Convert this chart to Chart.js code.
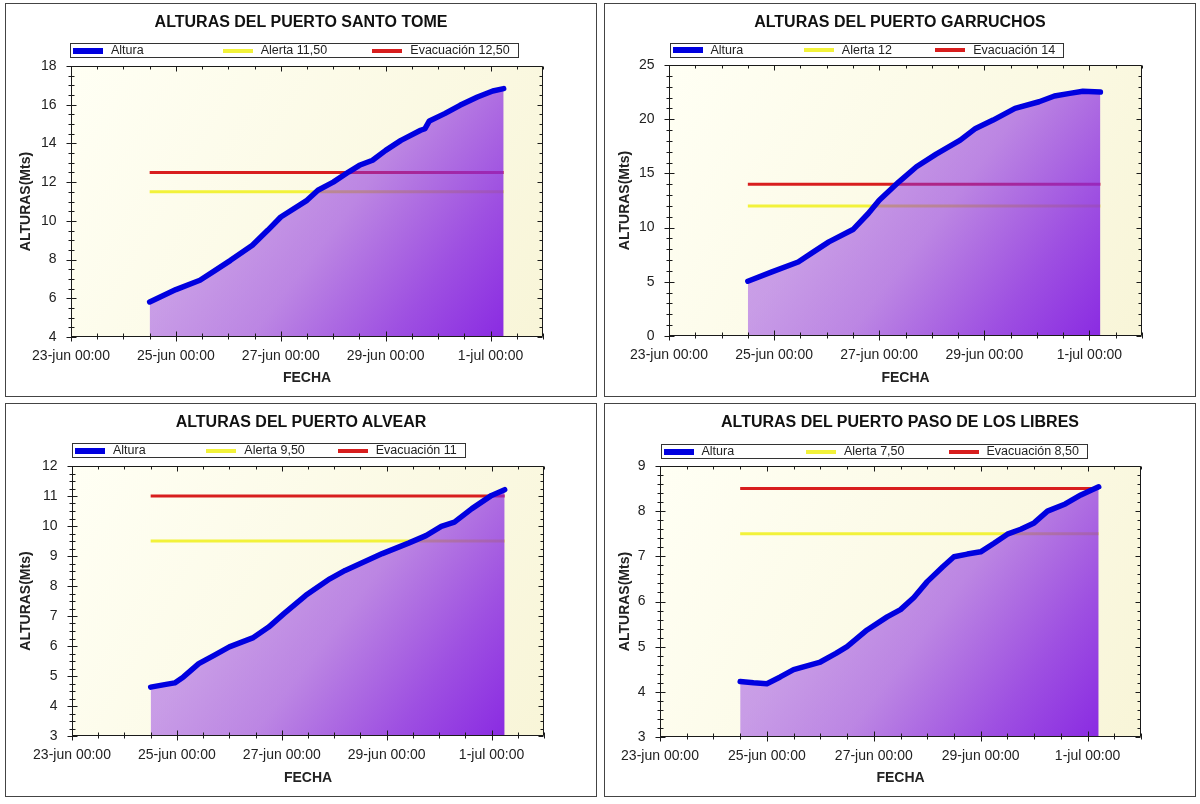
<!DOCTYPE html>
<html>
<head>
<meta charset="utf-8">
<script src="https://cdn.jsdelivr.net/npm/chart.js@4.4.1/dist/chart.umd.min.js"></script>
<style>
html,body{margin:0;padding:0;background:#fff;}
body{width:1200px;height:804px;position:relative;overflow:hidden;font-family:"Liberation Sans",Arial,sans-serif;}
.panel{position:absolute;width:592px;height:394px;}
.panel canvas{position:absolute;left:0;top:0;}
.borde{position:absolute;left:0;top:0;width:592px;height:394px;box-sizing:border-box;border:1.5px solid #444;pointer-events:none;}
.titulo{position:absolute;left:0;width:592px;top:9px;text-align:center;font-weight:bold;font-size:16px;line-height:20px;color:#111;}
.leyenda{position:absolute;height:15px;border:1px solid #333;box-sizing:border-box;background:#fff;font-size:12.5px;color:#222;}
.sw{position:absolute;width:30px;}
.tx{position:absolute;top:0;line-height:13px;white-space:nowrap;}
</style>
</head>
<body>
<script>
// ---------- DATOS ----------
const etiquetasX = ["23-jun 00:00", "25-jun 00:00", "27-jun 00:00", "29-jun 00:00", "1-jul 00:00"];
const inicioEjeX = "23-jun 00:00";
const finEjeX = "2-jul 00:00";
const tituloEjeX = "FECHA";
const tituloEjeY = "ALTURAS(Mts)";

// Santo Tome
const tituloSantoTome = "ALTURAS DEL PUERTO SANTO TOME";
const leyendaSantoTome = ["Altura", "Alerta 11,50", "Evacuación 12,50"];
const fechasSantoTome = ["24-jun 12:00","25-jun 00:00","25-jun 11:00","25-jun 18:00","26-jun 01:00","26-jun 11:00","26-jun 18:00","27-jun 00:00","27-jun 12:00","27-jun 17:00","28-jun 00:00","28-jun 07:00","28-jun 12:00","28-jun 18:00","29-jun 00:00","29-jun 07:00","29-jun 16:00","29-jun 18:00","29-jun 20:00","30-jun 03:00","30-jun 10:00","30-jun 18:00","1-jul 01:00","1-jul 06:00"];
const alturasSantoTome = [5.81,6.45,6.93,7.44,7.96,8.74,9.51,10.2,11.06,11.58,12.0,12.52,12.87,13.13,13.64,14.16,14.68,14.76,15.16,15.54,15.97,16.40,16.71,16.83];
const alertaSantoTome = 11.5;
const evacuacionSantoTome = 12.5;
const ejeYSantoTome = [4, 18, 2, 0.5];

// Garruchos
const tituloGarruchos = "ALTURAS DEL PUERTO GARRUCHOS";
const leyendaGarruchos = ["Altura", "Alerta 12", "Evacuación 14"];
const fechasGarruchos = ["24-jun 12:00","24-jun 23:00","25-jun 11:00","25-jun 18:00","26-jun 01:00","26-jun 12:00","26-jun 19:00","27-jun 00:00","27-jun 09:00","27-jun 17:00","28-jun 02:00","28-jun 13:00","28-jun 20:00","29-jun 04:00","29-jun 14:00","30-jun 01:00","30-jun 08:00","30-jun 15:00","30-jun 21:00","1-jul 05:00"];
const alturasGarruchos = [5.05,5.91,6.83,7.76,8.68,9.82,11.3,12.53,14.22,15.61,16.78,18.07,19.15,19.92,21.0,21.61,22.14,22.38,22.57,22.5];
const alertaGarruchos = 12;
const evacuacionGarruchos = 14;
const ejeYGarruchos = [0, 25, 5, 1];

// Alvear
const tituloAlvear = "ALTURAS DEL PUERTO ALVEAR";
const leyendaAlvear = ["Altura", "Alerta 9,50", "Evacuación 11"];
const fechasAlvear = ["24-jun 12:00","24-jun 19:00","24-jun 23:00","25-jun 03:00","25-jun 10:00","25-jun 17:00","26-jun 00:00","26-jun 11:00","26-jun 18:00","27-jun 01:00","27-jun 11:00","27-jun 22:00","28-jun 05:00","28-jun 13:00","28-jun 22:00","29-jun 10:00","29-jun 18:00","30-jun 01:00","30-jun 07:00","30-jun 15:00","1-jul 00:00","1-jul 06:00"];
const alturasAlvear = [4.63,4.72,4.77,4.97,5.41,5.69,5.97,6.28,6.63,7.08,7.69,8.24,8.52,8.78,9.08,9.43,9.68,9.99,10.13,10.58,11.02,11.21];
const alertaAlvear = 9.5;
const evacuacionAlvear = 11;
const ejeYAlvear = [3, 12, 1, 0.25];

// Paso de los Libres
const tituloPasoLibres = "ALTURAS DEL PUERTO PASO DE LOS LIBRES";
const leyendaPasoLibres = ["Altura", "Alerta 7,50", "Evacuación 8,50"];
const fechasPasoLibres = ["24-jun 12:00","24-jun 18:00","25-jun 00:00","25-jun 06:00","25-jun 12:00","26-jun 00:00","26-jun 07:00","26-jun 12:00","26-jun 21:00","27-jun 06:00","27-jun 12:00","27-jun 18:00","28-jun 00:00","28-jun 07:00","28-jun 12:00","28-jun 18:00","29-jun 00:00","29-jun 06:00","29-jun 12:00","29-jun 18:00","30-jun 00:00","30-jun 06:00","30-jun 14:00","30-jun 21:00","1-jul 05:00"];
const alturasPasoLibres = [4.23,4.20,4.18,4.33,4.49,4.66,4.85,5.0,5.37,5.66,5.82,6.09,6.44,6.77,6.99,7.05,7.10,7.29,7.49,7.60,7.74,8.0,8.16,8.36,8.54];
const alertaPasoLibres = 7.5;
const evacuacionPasoLibres = 8.5;
const ejeYPasoLibres = [3, 9, 1, 0.2];

// ---------- UTILIDADES ----------
const MESES = {jun: 0, jul: 30};
function aHoras(s) {
  const m = s.match(/(\d+)-(\w+) (\d+):(\d+)/);
  return (parseInt(m[1], 10) + MESES[m[2]] - 23) * 24 + parseInt(m[3], 10) + parseInt(m[4], 10) / 60;
}
const FUENTE = '"Liberation Sans", Arial, sans-serif';
const W = 592, H = 394;

const marco = {
  id: 'marco',
  beforeDraw(chart) {
    const {ctx, chartArea: a} = chart;
    const g = ctx.createLinearGradient(a.left, a.top, a.right, a.bottom);
    g.addColorStop(0, '#fffff4');
    g.addColorStop(1, '#f8f5d8');
    ctx.save();
    ctx.fillStyle = g;
    ctx.fillRect(a.left, a.top, a.right - a.left, a.bottom - a.top);
    ctx.restore();
  },
  afterDraw(chart) {
    const {ctx, chartArea: a} = chart;
    const sx = chart.scales.x, sy = chart.scales.y;
    const L = Math.round(a.left) + 0.5, R = Math.round(a.right) - 0.5;
    const T = Math.round(a.top) + 0.5, B = Math.round(a.bottom) - 0.5;
    ctx.save();
    ctx.strokeStyle = '#1a1a1a';
    ctx.lineWidth = 1;
    ctx.beginPath();
    ctx.rect(L, T, R - L, B - T);
    ctx.stroke();
    ctx.beginPath();
    sx.ticks.forEach(t => {
      const p = Math.round(sx.getPixelForValue(t.value)) + 0.5;
      const mayor = t.label !== '';
      const e = mayor ? 5 : 3;
      ctx.moveTo(p, B - e); ctx.lineTo(p, B + e);
      ctx.moveTo(p, T); ctx.lineTo(p, T + (mayor ? 5 : 3));
    });
    sy.ticks.forEach(t => {
      const p = Math.round(sy.getPixelForValue(t.value)) + 0.5;
      const mayor = t.label !== '';
      const e = mayor ? 5 : 3;
      ctx.moveTo(L - e, p); ctx.lineTo(L + e, p);
      ctx.moveTo(R, p); ctx.lineTo(R - (mayor ? 5 : 3), p);
    });
    ctx.stroke();
    ctx.restore();
  }
};

function crearGrafico(cfg) {
  const panel = document.createElement('div');
  panel.className = 'panel';
  panel.style.left = cfg.px + 'px';
  panel.style.top = cfg.py + 'px';
  const cv = document.createElement('canvas');
  cv.width = W; cv.height = H;
  panel.appendChild(cv);

  const tit = document.createElement('div');
  tit.className = 'titulo';
  tit.textContent = cfg.titulo;
  panel.appendChild(tit);

  const ley = document.createElement('div');
  ley.className = 'leyenda';
  ley.style.left = cfg.ley[0] + 'px';
  ley.style.top = cfg.ley[1] + 'px';
  ley.style.width = cfg.ley[2] + 'px';
  const col = cfg.ley[2] / 3;
  const colores = ['#0000e0', '#f2f23a', '#d81e1e'];
  const grosor = [6, 4, 4];
  cfg.leyenda.forEach((txt, i) => {
    const sw = document.createElement('div');
    sw.className = 'sw';
    sw.style.left = (2 + i * col) + 'px';
    sw.style.top = (6.5 - grosor[i] / 2) + 'px';
    sw.style.height = grosor[i] + 'px';
    sw.style.background = colores[i];
    ley.appendChild(sw);
    const tx = document.createElement('div');
    tx.className = 'tx';
    tx.style.left = (40 + i * col) + 'px';
    tx.textContent = txt;
    ley.appendChild(tx);
  });
  panel.appendChild(ley);

  const borde = document.createElement('div');
  borde.className = 'borde';
  panel.appendChild(borde);
  document.body.appendChild(panel);

  const xs = cfg.fechas.map(aHoras);
  const puntos = xs.map((x, i) => ({x: x, y: cfg.alturas[i]}));
  const x0 = xs[0], x1 = xs[xs.length - 1];
  const [ymin, ymax, ymay, ymen] = cfg.ejeY;

  new Chart(cv, {
    type: 'line',
    data: {
      datasets: [
        {
          label: cfg.leyenda[0], data: puntos,
          borderColor: colores[0], borderWidth: 5.5, pointRadius: 0, tension: 0,
          borderJoinStyle: 'round', borderCapStyle: 'round',
          fill: 'start',
          backgroundColor: (c) => {
            const ch = c.chart, a = ch.chartArea;
            if (!a) return 'rgba(138,43,226,0.6)';
            const sx = ch.scales.x;
            const g = ch.ctx.createLinearGradient(sx.getPixelForValue(x0), a.top, sx.getPixelForValue(x1), a.bottom);
            g.addColorStop(0, 'rgba(138,43,226,0.36)');
            g.addColorStop(0.35, 'rgba(138,43,226,0.46)');
            g.addColorStop(0.55, 'rgba(138,43,226,0.56)');
            g.addColorStop(0.8, 'rgba(138,43,226,0.82)');
            g.addColorStop(1, 'rgba(138,43,226,1)');
            return g;
          }
        },
        {
          label: cfg.leyenda[1], data: [{x: x0, y: cfg.alerta}, {x: x1, y: cfg.alerta}],
          borderColor: colores[1], borderWidth: 3, pointRadius: 0, fill: false, borderCapStyle: 'butt'
        },
        {
          label: cfg.leyenda[2], data: [{x: x0, y: cfg.evac}, {x: x1, y: cfg.evac}],
          borderColor: colores[2], borderWidth: 3, pointRadius: 0, fill: false, borderCapStyle: 'butt'
        }
      ]
    },
    options: {
      responsive: false, animation: false, devicePixelRatio: 1,
      layout: {padding: {left: 0, right: W - cfg.area[1], top: cfg.area[2], bottom: 0}},
      plugins: {legend: {display: false}, title: {display: false}, tooltip: {enabled: false}},
      events: [],
      scales: {
        x: {
          type: 'linear', min: aHoras(inicioEjeX), max: aHoras(finEjeX),
          grid: {display: false, drawTicks: false}, border: {display: false},
          ticks: {
            stepSize: 12, autoSkip: false, maxRotation: 0, minRotation: 0, padding: 10.5,
            font: {family: FUENTE, size: 14}, color: '#222',
            callback: (v) => {
              const e = etiquetasX.find(l => Math.abs(aHoras(l) - v) < 1e-6);
              return e || '';
            }
          },
          title: {display: true, text: tituloEjeX, font: {family: FUENTE, size: 14, weight: 'bold'}, color: '#222', padding: {top: 0, bottom: 10}},
          afterFit: (s) => { s.height = H - cfg.area[3]; }
        },
        y: {
          type: 'linear', min: ymin, max: ymax,
          grid: {display: false, drawTicks: false}, border: {display: false},
          ticks: {
            stepSize: ymen, autoSkip: false, padding: 14.5,
            font: {family: FUENTE, size: 14}, color: '#222',
            callback: (v) => Math.abs(v / ymay - Math.round(v / ymay)) < 1e-6 ? String(Math.round(v)) : ''
          },
          title: {display: true, text: tituloEjeY, font: {family: FUENTE, size: 14, weight: 'bold'}, color: '#222', padding: {top: 13, bottom: 0}},
          afterFit: (s) => { s.width = cfg.area[0]; }
        }
      }
    },
    plugins: [marco]
  });
}

crearGrafico({px: 5, py: 3, titulo: tituloSantoTome, leyenda: leyendaSantoTome, ley: [65, 40, 449],
  fechas: fechasSantoTome, alturas: alturasSantoTome, alerta: alertaSantoTome, evac: evacuacionSantoTome,
  ejeY: ejeYSantoTome, area: [66, 538, 63, 334]});
crearGrafico({px: 604, py: 3, titulo: tituloGarruchos, leyenda: leyendaGarruchos, ley: [65.5, 39.5, 394],
  fechas: fechasGarruchos, alturas: alturasGarruchos, alerta: alertaGarruchos, evac: evacuacionGarruchos,
  ejeY: ejeYGarruchos, area: [65, 538, 62, 333]});
crearGrafico({px: 5, py: 403, titulo: tituloAlvear, leyenda: leyendaAlvear, ley: [67, 40, 394],
  fechas: fechasAlvear, alturas: alturasAlvear, alerta: alertaAlvear, evac: evacuacionAlvear,
  ejeY: ejeYAlvear, area: [67, 539, 63, 333]});
crearGrafico({px: 604, py: 403, titulo: tituloPasoLibres, leyenda: leyendaPasoLibres, ley: [56.5, 41, 427.5],
  fechas: fechasPasoLibres, alturas: alturasPasoLibres, alerta: alertaPasoLibres, evac: evacuacionPasoLibres,
  ejeY: ejeYPasoLibres, area: [56, 537, 63, 334]});
</script>
</body>
</html>
